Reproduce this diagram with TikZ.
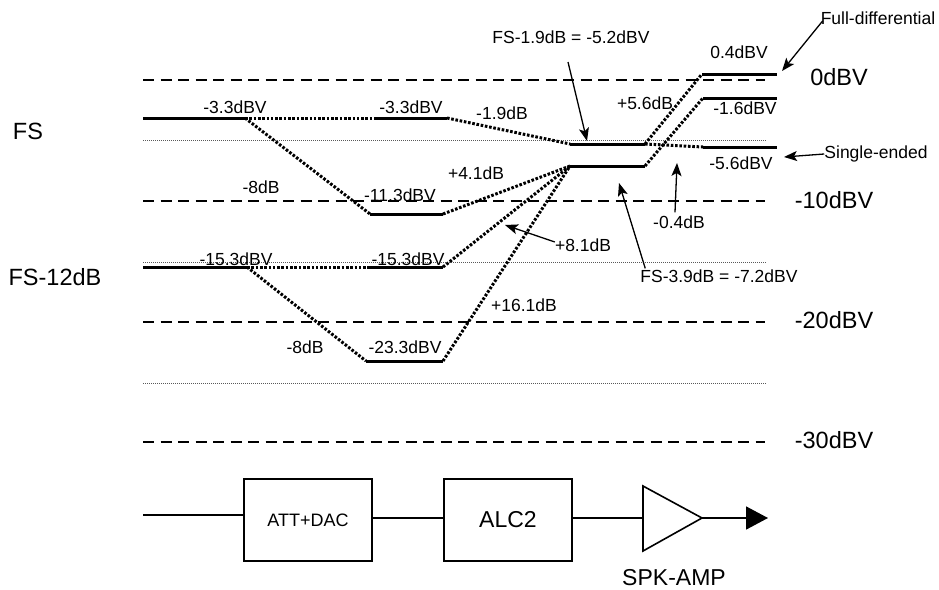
\documentclass[tikz,border=0pt]{standalone}
\usepackage{fontspec}
\setmainfont{Liberation Sans}
\usetikzlibrary{arrows.meta}
\begin{document}
\begin{tikzpicture}[x=1pt,y=-1pt,
  lbl/.style={font=\fontsize{17.5}{20}\selectfont, inner sep=0pt},
  big/.style={font=\fontsize{23.5}{27}\selectfont, inner sep=0pt},
  refdash/.style={line width=2pt, dash pattern=on 11pt off 6.5pt},
  refdot/.style={line width=0.8pt, black!65, dash pattern=on 1pt off 1pt},
  lvl/.style={line width=3pt},
  conn/.style={line width=3pt, dash pattern=on 2.6pt off 1.7pt},
  pointer/.style={line width=1.3pt, -{Stealth[length=13pt,width=10pt,inset=3pt]}},
  blk/.style={draw, line width=1.6pt, minimum width=128pt, minimum height=82pt, inner sep=0pt},
  wire/.style={line width=1.6pt}
]
\useasboundingbox (0,0) rectangle (939,589);

% reference lines
\coordinate (d0a) at (143,80);  \coordinate (d0b) at (765,80);
\coordinate (d1a) at (143,201); \coordinate (d1b) at (765,201);
\coordinate (d2a) at (143,322); \coordinate (d2b) at (765,322);
\coordinate (d3a) at (143,442); \coordinate (d3b) at (765,442);
\draw[refdash] (d0a) -- (d0b);
\draw[refdash] (d1a) -- (d1b);
\draw[refdash] (d2a) -- (d2b);
\draw[refdash] (d3a) -- (d3b);
\coordinate (r0a) at (143,140); \coordinate (r0b) at (767,140);
\coordinate (r1a) at (143,262); \coordinate (r1b) at (767,262);
\coordinate (r2a) at (143,383); \coordinate (r2b) at (767,383);
\draw[refdot] (r0a) -- (r0b);
\draw[refdot] (r1a) -- (r1b);
\draw[refdot] (r2a) -- (r2b);

% level coordinates
\coordinate (a0) at (143,118); \coordinate (a1) at (245,118);
\coordinate (a2) at (375,118); \coordinate (a3) at (447,118);
\coordinate (b1) at (370,214); \coordinate (b2) at (443,214);
\coordinate (c0) at (143,267); \coordinate (c1) at (247,267);
\coordinate (c2) at (370,267); \coordinate (c3) at (443,267);
\coordinate (e1) at (366,361); \coordinate (e2) at (443,361);
\coordinate (f1) at (570,144); \coordinate (f2) at (645,144);
\coordinate (g1) at (570,166); \coordinate (g2) at (645,166);
\coordinate (h1) at (702,74);  \coordinate (h2) at (777,74);
\coordinate (k1) at (703,98);  \coordinate (k2) at (777,98);
\coordinate (m1) at (703,147); \coordinate (m2) at (777,147);

% connectors
\draw[conn] (a1) -- (a2);
\draw[conn] (a1) -- (b1);
\draw[conn] (c1) -- (c2);
\draw[conn] (c1) -- (e1);
\draw[conn] (a3) -- (f1);
\draw[conn] (b2) -- (g1);
\draw[conn] (c3) -- (g1);
\draw[conn] (e2) -- (g1);
\draw[conn] (f2) -- (h1);
\draw[conn] (g2) -- (k1);
\draw[conn] (f2) -- (m1);

% levels
\draw[lvl] (a0) -- (a1);
\draw[lvl] (a2) -- (a3);
\draw[lvl] (b1) -- (b2);
\draw[lvl] (c0) -- (c1);
\draw[lvl] (c2) -- (c3);
\draw[lvl] (e1) -- (e2);
\draw[lvl] (f1) -- (f2);
\draw[lvl] (g1) -- (g2);
\draw[lvl] (h1) -- (h2);
\draw[lvl] (k1) -- (k2);
\draw[lvl] (m1) -- (m2);

% labels
\node[lbl] (t1) at (235,107) {-3.3dBV};
\node[lbl] (t2) at (411,107) {-3.3dBV};
\node[lbl] (t3) at (502,113) {-1.9dB};
\node[lbl] (t4) at (261,187) {-8dB};
\node[lbl] (t5) at (400,195) {-11.3dBV};
\node[lbl] (t6) at (476,173) {+4.1dB};
\node[lbl] (t7) at (236,259) {-15.3dBV};
\node[lbl] (t8) at (408,259) {-15.3dBV};
\node[lbl] (t9) at (305,347) {-8dB};
\node[lbl] (t10) at (405,347) {-23.3dBV};
\node[lbl] (t11) at (524,305) {+16.1dB};
\node[lbl] (t12) at (645,103) {+5.6dB};
\node[lbl] (t13) at (739,52) {0.4dBV};
\node[lbl] (t14) at (745,108) {-1.6dBV};
\node[lbl] (t15) at (741,163) {-5.6dBV};
\node[lbl] (t16) at (571,37) {FS-1.9dB = -5.2dBV};
\node[lbl] (t17) at (878,18) {Full-differential};
\node[lbl] (t18) at (876,154) {Single-ended};
\node[lbl] (t19) at (679,222) {-0.4dB};
\node[lbl] (t20) at (719,276) {FS-3.9dB = -7.2dBV};
\node[lbl] (t21) at (583,245) {+8.1dB};

\node[big] (l0) at (839,77) {0dBV};
\node[big] (l1) at (834,200) {-10dBV};
\node[big] (l2) at (834,320) {-20dBV};
\node[big] (l3) at (834,440) {-30dBV};
\node[big] (fs) at (28,131) {FS};
\node[big] (fs12) at (55,277) {FS-12dB};

% pointer arrows
\coordinate (p1) at (587,141);
\coordinate (p2) at (782,71);
\coordinate (p3) at (784,157);
\coordinate (p4) at (677,163);
\coordinate (p5) at (619,183);
\coordinate (p6) at (505,225);
\coordinate (q1) at (568,62);
\draw[pointer] (q1) -- (p1);
\draw[pointer] (t17.west) ++(2,3) coordinate (q2) (q2) -- (p2);
\draw[pointer] (t18.west) -- (p3);
\draw[pointer] (t19.north) ++(-4,-3) coordinate (q4) (q4) -- (p4);
\draw[pointer] (t20.north west) ++(5,-1) coordinate (q5) (q5) -- (p5);
\draw[pointer] (t21.west) ++(0,-3) coordinate (q6) (q6) -- (p6);

% block diagram
\coordinate (in) at (143,515);
\node[blk] (att) at (308,520) {\fontsize{18}{21}\selectfont ATT+DAC};
\node[blk] (alc) at (508,520) {\fontsize{23}{27}\selectfont ALC2};
\coordinate (tA) at (643,486);
\coordinate (tB) at (643,551);
\coordinate (tC) at (702,518);
\coordinate (out) at (768,518);
\draw[wire] (in) -- (in -| att.west);
\draw[wire] (att.east |- tC) -- (alc.west |- tC);
\draw[wire] (alc.east |- tC) -- (tA |- tC);
\draw[wire, line join=miter] (tA) -- (tB) -- (tC) -- cycle;
\draw[wire, -{Triangle[length=22pt,width=23pt]}] (tC) -- (out);
\node[font=\fontsize{23}{27}\selectfont, inner sep=0pt] (spk) at (674,578) {SPK-AMP};
\end{tikzpicture}
\end{document}
